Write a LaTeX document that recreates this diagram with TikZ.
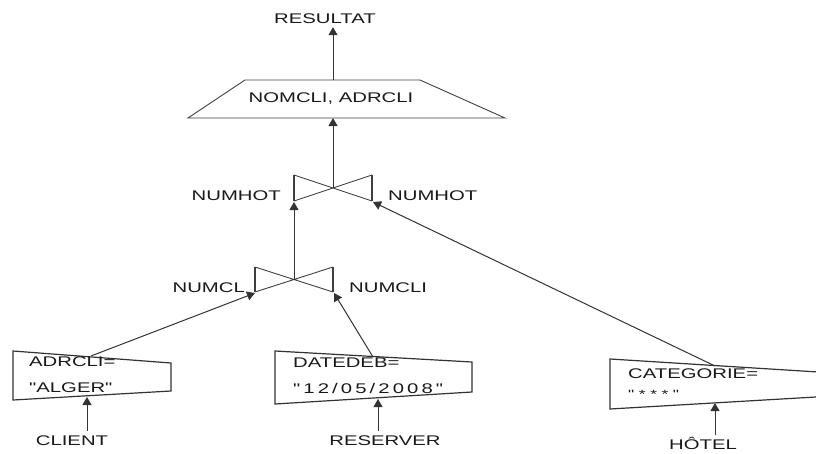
\documentclass[tikz,border=0pt]{standalone}
\usepackage{fontspec}
\setmainfont{Liberation Sans}[FakeStretch=1.45, Ligatures=TeXOff]
\usetikzlibrary{arrows.meta}

\begin{document}
\begin{tikzpicture}[x=1pt, y=-1pt,
  every node/.style={font=\fontsize{14}{17}\selectfont, inner sep=0pt, text=black!90},
  op/.style={draw=black!75, line width=0.9pt},
  selbox/.style={draw=black!80, line width=1.2pt},
  bar/.style={draw=black!75, line width=1.8pt},
  fl/.style={draw=black!80, line width=1pt, -{Triangle[width=9pt,length=8pt]}}]
\useasboundingbox (0,0) rectangle (816,453);
\clip (0,0) rectangle (816,453);

\node (res) at (325,19) {RESULTAT};
\draw[op] (188,118) -- (245,80) -- (420,80) -- (505,118) -- cycle;
\node (proj) at (331,99) {NOMCLI, ADRCLI};
\coordinate (projT) at (333,80);
\coordinate (projB) at (333,118);
\draw[fl] (projT) -- ([yshift=-3pt]res.south -| projT);

\coordinate (j1) at (333,188);
\draw[op] (294,175) -- (372,201) (294,201) -- (372,175);
\draw[bar] (294,175) -- (294,201) (372,175) -- (372,201);
\coordinate (j1L) at (294,202);
\coordinate (j1R) at (373,202);
\node[anchor=east] (nh1) at (281,196) {NUMHOT};
\node[anchor=west] (nh2) at (388,196) {NUMHOT};
\draw[fl] (j1) -- (projB);

\coordinate (j2) at (294,279.5);
\draw[op] (255,267) -- (333,292) (255,292) -- (333,267);
\draw[bar] (255,267) -- (255,292) (333,267) -- (333,292);
\coordinate (j2L) at (255,293);
\coordinate (j2R) at (334,293);
\node[anchor=east] (nc1) at (245,288) {NUMCL};
\node[anchor=west] (nc2) at (349,288) {NUMCLI};
\draw[fl] (j2) -- (j1L);

\draw[selbox] (13,351) -- (171,363) -- (171,391) -- (13,400) -- cycle;
\node[anchor=west] (s1a) at (29,362) {ADRCLI=};
\node[anchor=west] (s1b) at (29,388) {"ALGER"};
\coordinate (s1T) at (91,356);
\coordinate (s1B) at (87,397);

\draw[selbox] (275,351) -- (472,362) -- (472,392) -- (275,404) -- cycle;
\node[anchor=west] (s2a) at (293,363) {DATEDEB=};
\node[anchor=west] (s2b) at (293,388) {\addfontfeature{LetterSpace=22}"12/05/2008"};
\coordinate (s2T) at (373,357);
\coordinate (s2B) at (378,399);

\draw[selbox] (610,359) -- (850,374) -- (850,395) -- (610,409) -- cycle;
\node[anchor=west] (s3a) at (628,374) {CATEGORIE=};
\node[anchor=west] (s3b) at (628,394) {\fontsize{12}{14}\selectfont\addfontfeature{LetterSpace=38}"***"};
\coordinate (s3T) at (715,366);
\coordinate (s3B) at (715,403);

\draw[fl] (s1T) -- (j2L);
\draw[fl] (s2T) -- (j2R);
\draw[fl] (s3T) -- (j1R);

\node[anchor=base] (cli) at (72,445) {CLIENT};
\node[anchor=base] (rsv) at (385,445) {RESERVER};
\node[anchor=base] (hot) at (703,449) {HÔTEL};
\draw[fl] ([yshift=4pt]cli.north -| s1B) -- (s1B);
\draw[fl] ([yshift=4pt]rsv.north -| s2B) -- (s2B);
\draw[fl] ([yshift=2pt]hot.north -| s3B) -- (s3B);
\end{tikzpicture}
\end{document}
